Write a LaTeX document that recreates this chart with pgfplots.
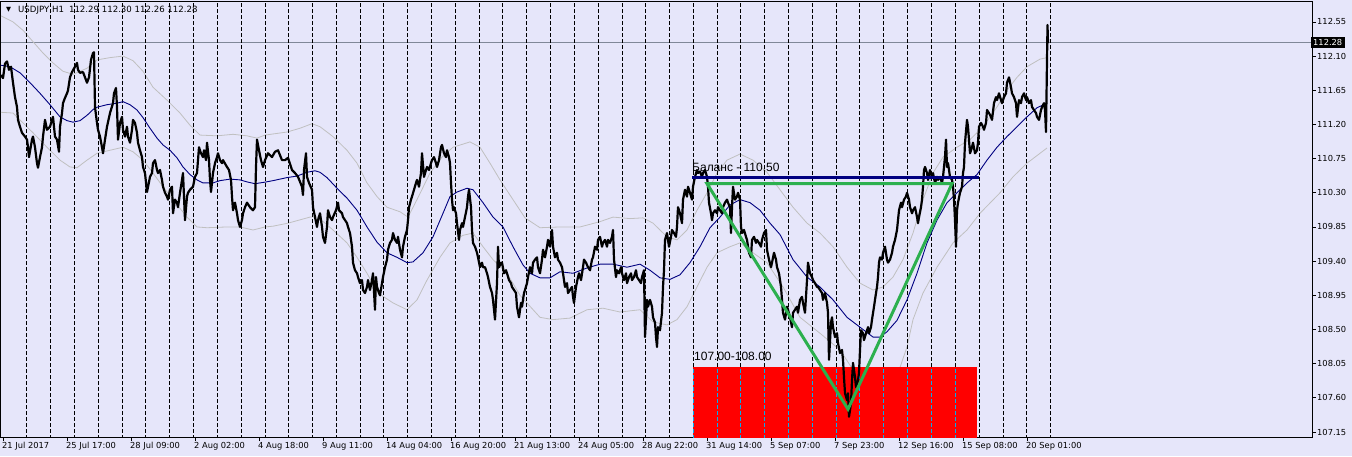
\documentclass[border=0pt]{standalone}
\usepackage{pgfplots}
\pgfplotsset{compat=1.18}
\usepackage{pgfplotstable}
\usepackage{fontspec}
\setmainfont{DejaVu Sans}
\newfontfamily\lib{Liberation Sans}
\definecolor{bg}{RGB}{230,230,250}
\definecolor{band}{RGB}{192,192,192}
\definecolor{ma}{RGB}{0,0,128}
\definecolor{tri}{RGB}{44,176,78}
\definecolor{askline}{RGB}{128,136,152}

\pgfplotstableread{
x y
1 111.85
3 111.81
5 112.00
7 112.03
9 111.92
11 111.96
13 111.75
15 111.56
17 111.43
18 111.26
20 111.17
22 111.09
25 111.04
27 111.00
28 110.90
29 110.77
32 111.00
33 111.04
35 110.90
37 110.69
38 110.63
40 110.77
42 110.90
43 111.04
45 111.26
47 111.13
50 111.17
52 111.26
53 111.30
55 111.04
57 111.00
59 110.84
60 111.17
62 111.35
63 111.48
65 111.55
67 111.61
68 111.65
70 111.82
72 111.89
75 111.96
77 112.01
78 111.92
80 111.88
83 111.89
85 111.82
87 111.75
89 111.82
91 112.05
93 112.14
94 112.15
95 111.43
97 111.22
98 111.13
100 111.04
102 110.90
103 110.82
105 111.00
107 111.17
110 111.35
113 111.48
114 111.61
116 111.68
117 111.43
118 111.00
120 111.22
122 111.30
123 111.13
125 111.04
127 111.17
128 111.04
130 110.96
132 111.13
133 111.26
135 111.22
137 111.09
138 110.96
140 110.86
142 110.77
143 110.64
145 110.56
147 110.31
150 110.51
152 110.56
153 110.69
155 110.73
157 110.60
158 110.56
160 110.60
162 110.47
163 110.38
165 110.30
167 110.25
168 110.21
170 110.34
172 110.38
173 110.03
175 110.21
177 110.17
178 110.11
180 110.30
182 110.47
183 110.56
185 109.94
187 110.25
188 110.30
190 110.34
193 110.38
195 110.51
197 110.56
199 110.90
201 110.82
203 110.77
204 110.86
206 110.73
207 110.96
209 110.73
210 110.47
211 110.31
213 110.56
215 110.69
217 110.77
218 110.82
220 110.73
222 110.69
223 110.73
227 110.64
229 110.60
231 110.47
232 110.25
233 110.07
235 110.17
237 110.03
238 109.94
240 109.85
242 109.94
243 110.03
245 110.11
247 110.17
250 110.11
253 110.07
255 110.11
256 110.64
257 111.00
259 110.86
261 110.73
263 110.64
265 110.73
268 110.82
272 110.77
275 110.84
278 110.86
282 110.73
285 110.73
288 110.76
292 110.60
295 110.56
298 110.51
302 110.38
303 110.27
304 110.60
306 110.82
307 110.51
309 110.43
312 110.34
313 110.11
315 109.98
317 109.85
318 109.94
320 110.03
322 109.85
323 109.72
325 109.64
327 109.85
328 110.07
330 109.98
332 109.94
333 109.98
336 110.07
338 110.17
339 110.07
342 110.03
343 109.98
345 109.94
347 109.90
348 109.85
350 109.77
352 109.59
353 109.38
355 109.28
357 109.24
358 109.19
360 109.11
362 109.15
363 109.02
365 108.98
367 109.06
368 109.15
370 109.02
372 109.15
373 109.24
375 108.76
376 109.19
377 109.06
379 108.98
380 108.95
382 109.11
383 109.19
385 109.32
387 109.42
388 109.55
390 109.64
392 109.68
393 109.77
395 109.68
397 109.64
398 109.72
400 109.55
402 109.45
403 109.59
405 109.72
407 109.81
408 109.94
409 110.11
411 110.21
412 110.25
414 110.34
416 110.43
417 110.47
419 110.38
421 110.56
422 110.82
424 110.51
426 110.60
427 110.64
429 110.60
431 110.69
432 110.73
434 110.77
436 110.69
437 110.64
439 110.73
441 110.90
442 110.93
444 110.82
446 110.77
447 110.86
449 110.77
450 110.69
451 110.43
452 110.21
453 110.07
454 110.11
456 110.03
457 109.90
459 109.68
460 109.81
462 109.90
463 109.85
465 109.98
467 110.11
468 110.25
469 110.34
471 110.11
472 109.81
473 109.64
475 109.59
477 109.51
478 109.45
480 109.32
482 109.38
483 109.32
485 109.32
487 109.24
488 109.19
490 109.06
492 108.98
493 108.89
495 108.63
497 109.11
498 109.59
499 109.32
501 109.38
502 109.38
504 109.24
506 109.28
507 109.24
509 109.15
511 109.11
512 109.06
514 109.02
516 108.98
517 108.80
519 108.66
521 108.85
522 108.80
524 108.98
525 109.02
527 109.11
528 109.19
530 109.32
532 109.24
533 109.38
535 109.42
537 109.45
538 109.32
540 109.24
542 109.42
543 109.55
545 109.45
547 109.59
548 109.68
550 109.59
552 109.81
553 109.59
555 109.45
557 109.51
558 109.42
560 109.38
562 109.32
563 109.24
565 109.06
567 109.11
568 108.98
570 109.02
572 109.06
573 108.93
574 108.85
576 109.06
578 109.19
579 109.24
581 109.15
583 109.32
584 109.42
586 109.38
588 109.32
590 109.28
592 109.42
593 109.45
595 109.59
597 109.55
598 109.68
600 109.72
602 109.59
603 109.64
605 109.68
607 109.59
608 109.68
610 109.64
612 109.72
613 109.81
614 109.42
616 109.19
617 109.28
619 109.24
621 109.32
622 109.24
624 109.15
626 109.24
627 109.11
629 109.19
631 109.24
632 109.15
634 109.19
636 109.28
637 109.19
639 109.15
641 109.11
642 109.19
644 109.28
645 108.40
647 108.89
648 108.80
650 108.89
652 108.80
653 108.66
655 108.59
656 108.40
657 108.27
658 108.53
660 108.49
662 108.72
663 109.06
664 109.28
665 109.68
667 109.77
668 109.68
669 109.59
671 109.72
672 109.81
674 109.77
676 109.72
677 109.85
678 110.11
680 110.03
682 109.90
683 110.21
685 110.34
687 110.25
688 110.38
690 110.30
692 110.21
693 110.38
695 110.51
697 110.60
698 110.56
700 110.58
702 110.51
703 110.56
705 110.60
707 110.51
708 110.38
709 110.17
711 110.03
712 109.94
713 110.03
715 110.07
717 110.03
718 110.11
720 110.07
722 110.03
723 110.11
725 110.17
727 110.21
728 110.17
730 110.11
731 109.77
732 110.11
733 110.38
735 110.21
737 110.25
738 110.30
740 110.21
741 109.85
742 109.77
744 109.81
746 109.72
747 109.68
749 109.51
751 109.45
752 109.68
754 109.72
756 109.64
757 109.68
759 109.64
761 109.59
762 109.68
764 109.77
766 109.81
767 109.55
769 109.42
771 109.32
772 109.38
774 109.51
776 109.42
777 109.32
779 109.24
781 109.06
782 108.89
783 108.72
785 108.63
787 108.80
788 108.76
790 108.66
792 108.53
793 108.72
795 108.76
797 108.80
798 108.72
800 108.89
802 108.93
803 108.85
805 108.72
807 109.15
808 109.38
810 109.24
812 109.19
813 109.15
815 109.11
817 109.06
818 109.06
820 109.02
822 108.98
823 108.89
825 108.98
827 108.85
828 108.72
829 108.10
831 108.59
832 108.66
833 108.53
835 108.40
837 108.45
838 108.32
840 108.19
842 108.23
843 108.10
844 107.87
845 107.66
847 107.57
848 107.66
849 107.35
851 107.53
852 107.83
853 108.06
855 107.87
856 107.74
858 107.83
859 107.93
860 108.23
861 108.49
863 108.45
864 108.36
866 108.45
868 108.53
869 108.45
871 108.53
872 108.63
874 108.80
876 108.98
877 109.06
878 109.19
879 109.38
880 109.45
882 109.42
883 109.51
885 109.59
887 109.42
888 109.38
890 109.42
892 109.51
893 109.59
895 109.68
897 109.81
898 109.94
899 110.07
901 110.17
902 110.11
904 110.21
906 110.25
907 110.30
909 110.21
910 110.11
912 110.03
913 110.07
915 110.11
917 109.98
918 109.90
919 109.98
921 110.11
922 110.21
923 110.38
924 110.60
925 110.64
927 110.56
928 110.47
930 110.60
932 110.51
933 110.56
935 110.43
937 110.51
938 110.47
940 110.51
942 110.43
943 110.51
945 110.77
946 111.00
947 110.64
948 110.69
950 110.51
952 110.47
953 110.38
954 110.21
955 109.94
956 109.59
957 110.07
958 110.17
960 110.30
962 110.38
963 110.56
964 110.64
965 110.96
967 111.26
968 111.17
970 110.82
972 110.90
973 110.96
975 110.82
977 110.86
978 110.96
979 111.17
981 111.22
983 111.17
984 111.13
986 111.22
987 111.39
989 111.35
991 111.30
992 111.26
994 111.48
996 111.56
997 111.52
999 111.61
1001 111.52
1002 111.48
1004 111.56
1006 111.61
1007 111.75
1009 111.82
1011 111.69
1012 111.61
1014 111.56
1016 111.48
1017 111.30
1019 111.52
1021 111.48
1022 111.56
1024 111.61
1026 111.52
1027 111.56
1029 111.48
1031 111.52
1032 111.43
1034 111.39
1036 111.35
1037 111.30
1039 111.26
1041 111.39
1042 111.43
1044 111.48
1045 111.39
1046 111.10
1047 112.05
1047.5 112.51
1048 112.27
}\pricedata

\pgfplotstableread{
x y
1 111.98
10 111.96
20 111.88
30 111.75
40 111.61
50 111.46
60 111.30
67 111.25
73 111.23
80 111.25
87 111.32
95 111.42
107 111.46
117 111.48
123 111.50
130 111.46
137 111.39
143 111.29
150 111.15
157 111.02
163 110.93
170 110.86
177 110.76
183 110.64
190 110.54
197 110.47
203 110.43
213 110.43
220 110.46
230 110.48
240 110.47
248 110.44
255 110.42
265 110.44
273 110.46
287 110.50
297 110.52
307 110.57
315 110.59
320 110.57
327 110.50
337 110.36
347 110.23
357 110.07
367 109.85
377 109.65
387 109.51
397 109.45
407 109.38
413 109.39
423 109.51
433 109.72
443 110.03
450 110.25
457 110.31
467 110.36
473 110.34
483 110.17
493 109.98
503 109.85
513 109.59
523 109.35
530 109.24
540 109.18
550 109.18
560 109.26
573 109.24
587 109.31
600 109.36
613 109.36
627 109.32
640 109.36
650 109.28
660 109.18
670 109.16
680 109.22
690 109.38
700 109.59
710 109.84
720 109.98
730 110.14
740 110.21
750 110.17
760 110.07
770 109.90
780 109.75
793 109.42
807 109.19
820 109.06
833 108.89
847 108.66
860 108.53
873 108.40
880 108.40
887 108.47
897 108.62
907 108.89
917 109.24
927 109.64
937 109.94
947 110.17
957 110.30
967 110.43
977 110.54
987 110.73
997 110.90
1007 111.04
1017 111.17
1027 111.30
1037 111.42
1047 111.48
}\madata

\pgfplotstableread{
x y
1 112.63
13 112.55
23 112.44
33 112.29
43 112.14
53 112.01
63 111.90
73 111.86
87 111.94
97 112.05
110 112.08
123 112.10
133 112.04
143 111.90
153 111.69
167 111.52
180 111.35
190 111.19
200 111.06
217 111.05
233 111.07
247 111.05
257 111.02
265 111.06
287 111.10
300 111.15
312 111.21
320 111.17
333 111.04
347 110.86
357 110.69
367 110.43
377 110.25
387 110.11
400 110.05
408 109.98
417 110.21
430 110.56
442 110.77
453 110.90
470 110.97
480 110.90
490 110.69
500 110.47
513 110.21
525 109.97
540 109.84
560 109.85
580 109.85
600 109.92
613 109.98
630 109.96
643 109.97
653 109.90
667 109.72
677 109.68
687 109.81
697 110.07
707 110.30
717 110.56
727 110.73
740 110.81
753 110.73
767 110.57
780 110.34
793 110.11
807 109.90
820 109.77
833 109.59
847 109.32
860 109.11
873 109.02
883 109.06
893 109.19
903 109.42
913 109.77
923 110.21
933 110.56
943 110.77
957 110.90
970 111.00
983 111.17
997 111.43
1007 111.65
1017 111.82
1027 111.96
1040 112.06
1047 112.08
}\upperband

\pgfplotstableread{
x y
1 111.36
13 111.35
23 111.22
33 111.09
47 110.90
60 110.73
70 110.64
77 110.63
87 110.73
97 110.82
110 110.86
123 110.90
133 110.84
143 110.73
153 110.56
163 110.38
173 110.21
187 109.98
197 109.85
207 109.84
227 109.85
240 109.85
253 109.81
265 109.85
273 109.86
288 109.90
310 109.98
318 109.98
333 109.81
347 109.64
357 109.45
367 109.24
378 108.98
393 108.85
407 108.76
417 108.89
427 109.15
440 109.45
450 109.64
463 109.74
473 109.77
483 109.59
493 109.42
507 109.24
520 108.95
540 108.66
553 108.63
570 108.65
587 108.76
603 108.78
620 108.73
640 108.76
653 108.60
667 108.56
677 108.63
687 108.80
697 109.06
707 109.32
717 109.51
730 109.59
740 109.64
753 109.51
767 109.38
783 109.06
800 108.66
820 108.45
840 108.23
853 107.97
867 107.83
880 107.80
890 107.83
900 108.00
907 108.27
913 108.63
923 108.98
937 109.32
953 109.64
967 109.81
980 110.03
1000 110.30
1013 110.51
1027 110.69
1040 110.82
1047 110.89
}\lowerband

\pgfplotstableread{
x y
26.7 106.9
26.7 113
26.7 nan
50.7 106.9
50.7 113
50.7 nan
74.7 106.9
74.7 113
74.7 nan
98.7 106.9
98.7 113
98.7 nan
122.7 106.9
122.7 113
122.7 nan
145.7 106.9
145.7 113
145.7 nan
169.7 106.9
169.7 113
169.7 nan
193.7 106.9
193.7 113
193.7 nan
217.7 106.9
217.7 113
217.7 nan
241.7 106.9
241.7 113
241.7 nan
265 106.9
265 113
265 nan
288.5 106.9
288.5 113
288.5 nan
312.3 106.9
312.3 113
312.3 nan
336.7 106.9
336.7 113
336.7 nan
360.3 106.9
360.3 113
360.3 nan
383.7 106.9
383.7 113
383.7 nan
407.7 106.9
407.7 113
407.7 nan
431.7 106.9
431.7 113
431.7 nan
455.3 106.9
455.3 113
455.3 nan
479.3 106.9
479.3 113
479.3 nan
502.5 106.9
502.5 113
502.5 nan
526.7 106.9
526.7 113
526.7 nan
550.7 106.9
550.7 113
550.7 nan
574.7 106.9
574.7 113
574.7 nan
598.7 106.9
598.7 113
598.7 nan
622 106.9
622 113
622 nan
645.3 106.9
645.3 113
645.3 nan
669.3 106.9
669.3 113
669.3 nan
693.3 106.9
693.3 113
693.3 nan
717.3 106.9
717.3 113
717.3 nan
740.7 106.9
740.7 113
740.7 nan
764.7 106.9
764.7 113
764.7 nan
788.3 106.9
788.3 113
788.3 nan
812.3 106.9
812.3 113
812.3 nan
836.3 106.9
836.3 113
836.3 nan
859.7 106.9
859.7 113
859.7 nan
883.7 106.9
883.7 113
883.7 nan
907.7 106.9
907.7 113
907.7 nan
931.7 106.9
931.7 113
931.7 nan
955.7 106.9
955.7 113
955.7 nan
979 106.9
979 113
979 nan
1003 106.9
1003 113
1003 nan
1026.3 106.9
1026.3 113
1026.3 nan
1050.3 106.9
1050.3 113
}\sepsdata

\pgfplotstableread{
x y
693.3 106.9
693.3 108.0
693.3 nan
717.3 106.9
717.3 108.0
717.3 nan
740.7 106.9
740.7 108.0
740.7 nan
764.7 106.9
764.7 108.0
764.7 nan
788.3 106.9
788.3 108.0
788.3 nan
812.3 106.9
812.3 108.0
812.3 nan
836.3 106.9
836.3 108.0
836.3 nan
859.7 106.9
859.7 108.0
859.7 nan
883.7 106.9
883.7 108.0
883.7 nan
907.7 106.9
907.7 108.0
907.7 nan
931.7 106.9
931.7 108.0
931.7 nan
955.7 106.9
955.7 108.0
}\csepsdata

\begin{document}
\begin{tikzpicture}[x=1pt,y=1pt]
\useasboundingbox (0,0) rectangle (1352,456);
\fill[bg] (0,0) rectangle (1352,456);
\begin{axis}[
  at={(1pt,19pt)}, anchor=south west, scale only axis,
  width=1311pt, height=435.5pt,
  xmin=1, xmax=1312, ymin=107.084, ymax=112.819,
  axis line style={black, line width=1pt},
  tick style={black, line width=0.8pt},
  tick align=outside, major tick length=4pt,
  xtick pos=bottom, ytick pos=right,
  yticklabel pos=right,
  /pgf/number format/assume math mode=true,
  xtick={3,67,131,195,259,323,387,451,515,579,643,707,771,835,899,963,1027},
  xticklabels={21 Jul 2017,25 Jul 17:00,28 Jul 09:00,2 Aug 02:00,4 Aug 18:00,9 Aug 11:00,14 Aug 04:00,16 Aug 20:00,21 Aug 13:00,24 Aug 05:00,28 Aug 22:00,31 Aug 14:00,5 Sep 07:00,7 Sep 23:00,12 Sep 16:00,15 Sep 08:00,20 Sep 01:00},
  ytick={107.15,107.60,108.05,108.50,108.95,109.40,109.85,110.30,110.75,111.20,111.65,112.10,112.55},
  yticklabels={107.15,107.60,108.05,108.50,108.95,109.40,109.85,110.30,110.75,111.20,111.65,112.10,112.55},
  x tick label style={font=\fontsize{8.3}{9}\selectfont, anchor=north west, inner sep=0pt, xshift=-1pt, yshift=-1pt},
  y tick label style={font=\fontsize{8.3}{9}\selectfont, anchor=west, inner sep=0pt, xshift=1pt},
  extra y ticks={112.28},
  extra y tick labels={112.28},
  extra y tick style={major tick length=0pt, grid=major,
     major grid style={askline, line width=0.9pt},
     y tick label style={fill=black, text=white, inner xsep=2.5pt, inner ysep=2pt, xshift=-2.5pt}},
  unbounded coords=jump,
]
\addplot[band, line width=0.8pt] table {\upperband};
\addplot[band, line width=0.8pt] table {\lowerband};
\addplot[black, line width=0.9pt, dash pattern=on 4pt off 2pt] table {\sepsdata};
\addplot[fill=red, draw=none] coordinates {(692.8,106.9) (977,106.9) (977,108.0) (692.8,108.0)} -- cycle;
\addplot[cyan, line width=0.9pt, dash pattern=on 4pt off 2pt] table {\csepsdata};
\addplot[ma, line width=0.9pt] table {\madata};
\addplot[black, line width=2.2pt, line join=round] table {\pricedata};
\addplot[tri, line width=3pt, line join=miter] coordinates {(707,110.42) (848,107.45) (952,110.42)} -- cycle;
\addplot[ma, line width=3.5pt] coordinates {(692,110.50) (979,110.50)};
\node[anchor=base west, inner sep=0pt, font=\lib\fontsize{12}{14}\selectfont] at (axis cs:692,110.585) {Баланс - 110.50};
\node[anchor=base west, inner sep=0pt, font=\lib\fontsize{12}{14}\selectfont] at (axis cs:694,108.085) {107.00-108.00};
\end{axis}
\node[anchor=west, inner sep=0pt, font=\fontsize{6.5}{7}\selectfont] at (6,446) {▼};
\node[anchor=west, inner sep=0pt, font=\fontsize{8.6}{9}\selectfont] at (18,446) {USDJPY,H1\hspace{5pt}112.29 112.30 112.26 112.28};
\end{tikzpicture}
\end{document}
